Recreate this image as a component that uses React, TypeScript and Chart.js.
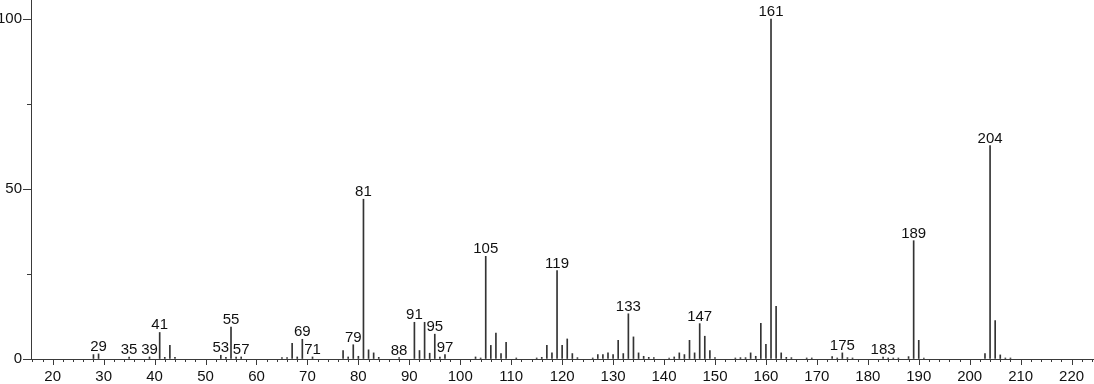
import React, { useEffect, useRef } from 'react';
import { Chart, registerables } from 'chart.js';

Chart.register(...registerables);

// m/z values and relative intensities (%)
const mzValues = [
  28, 29, 35, 39, 41, 42, 43, 44, 53, 54, 55, 56, 57, 65, 66, 67, 68, 69, 71,
  77, 78, 79, 80, 81, 82, 83, 84, 88, 91, 92, 93, 94, 95, 96, 97,
  103, 104, 105, 106, 107, 108, 109, 111, 115, 116, 117, 118, 119, 120, 121, 122, 123,
  126, 127, 128, 129, 130, 131, 132, 133, 134, 135, 136, 137, 138,
  141, 142, 143, 144, 145, 146, 147, 148, 149, 150, 154, 155, 156, 157, 158, 159, 160,
  161, 162, 163, 164, 165, 168, 169, 173, 174, 175, 176, 177, 183, 184, 185, 186,
  188, 189, 190, 191, 203, 204, 205, 206, 207, 208,
];
const intensities = [
  1.3, 1.5, 0.6, 0.6, 7.8, 0.5, 4.0, 0.5, 1.1, 0.5, 9.4, 0.6, 0.6, 0.4, 0.4, 4.6, 0.6, 5.8, 0.6,
  2.5, 0.6, 4.2, 0.8, 47.0, 2.7, 1.8, 0.5, 0.4, 10.8, 2.5, 10.8, 1.7, 7.3, 0.6, 1.3,
  0.6, 0.3, 30.2, 4.0, 7.6, 1.6, 4.9, 0.3, 0.3, 0.5, 4.0, 1.8, 26.0, 4.0, 5.9, 1.6, 0.4,
  0.3, 1.3, 1.3, 1.8, 1.3, 5.5, 1.6, 13.3, 6.5, 1.8, 0.8, 0.5, 0.4,
  0.3, 0.6, 1.8, 1.3, 5.5, 1.8, 10.4, 6.7, 2.5, 0.4, 0.3, 0.4, 0.4, 1.8, 0.8, 10.5, 4.3,
  100.0, 15.5, 1.8, 0.5, 0.4, 0.3, 0.3, 0.7, 0.3, 1.8, 0.4, 0.3, 0.6, 0.3, 0.3, 0.3,
  0.7, 34.8, 5.5, 0.3, 1.6, 62.8, 11.3, 1.2, 0.3, 0.3,
];
const labeledPeaks = [
  29, 35, 39, 41, 53, 55, 57, 69, 71, 79, 81, 88, 91, 95, 97,
  105, 119, 133, 147, 161, 175, 183, 189, 204,
];
const xTickLabels = [20, 30, 40, 50, 60, 70, 80, 90, 100, 110, 120, 130, 140, 150, 160, 170, 180, 190, 200, 210, 220];
const yTickLabels = [0, 50, 100];
const yTickMarks = [0, 25, 50, 75, 100];

const FONT = '"Liberation Sans", Arial, Helvetica, sans-serif';
const AXIS = '#3a3a3a';

export default function App() {
  const ref = useRef<HTMLCanvasElement>(null);

  useEffect(() => {
    const canvas = ref.current;
    if (!canvas) return;
    const points = mzValues.map((x, i) => ({ x, y: intensities[i] }));

    const spectrumPlugin = {
      id: 'spectrumDecor',
      afterDraw(chart: any) {
        const c = chart.ctx as CanvasRenderingContext2D;
        const xs = chart.scales.x;
        const ys = chart.scales.y;
        const area = chart.chartArea;
        c.save();
        c.strokeStyle = AXIS;
        c.lineWidth = 1;
        c.beginPath();
        for (let v = 16; v <= 224; v += 2) {
          const px = Math.round(xs.getPixelForValue(v)) + 0.5;
          const len = xTickLabels.includes(v) ? 6 : 3;
          c.moveTo(px, area.bottom);
          c.lineTo(px, area.bottom + len);
        }
        for (const v of yTickMarks) {
          const py = Math.round(ys.getPixelForValue(v)) + 0.5;
          const len = yTickLabels.includes(v) ? 8 : 4;
          c.moveTo(area.left, py);
          c.lineTo(area.left - len, py);
        }
        c.stroke();

        const meta = chart.getDatasetMeta(0);
        c.fillStyle = '#111';
        c.font = '15px ' + FONT;
        c.textAlign = 'center';
        c.textBaseline = 'alphabetic';
        meta.data.forEach((el: any, i: number) => {
          const mz = mzValues[i];
          if (labeledPeaks.includes(mz)) {
            c.fillText(String(mz), el.x, el.y - 3);
          }
        });
        c.restore();
      },
    };

    const chart = new Chart(canvas, {
      type: 'bar',
      data: {
        datasets: [
          {
            data: points as any,
            backgroundColor: '#333',
            borderWidth: 0,
            barThickness: 1,
          },
        ],
      },
      options: {
        animation: false,
        responsive: false,
        maintainAspectRatio: false,
        layout: { padding: 0 },
        plugins: {
          legend: { display: false },
          tooltip: { enabled: false },
        },
        scales: {
          x: {
            type: 'linear',
            min: 15.74,
            max: 224.4,
            offset: false,
            grid: { display: true, drawOnChartArea: false, drawTicks: false, offset: false },
            border: { display: true, color: AXIS, width: 1 },
            afterBuildTicks: (scale: any) => {
              const t = [];
              for (let v = 16; v <= 224; v += 2) t.push({ value: v });
              scale.ticks = t;
            },
            ticks: {
              autoSkip: false,
              maxRotation: 0,
              padding: 9,
              color: '#111',
              font: { family: FONT, size: 15 },
              callback: (v: any) => (xTickLabels.includes(Number(v)) ? String(v) : ''),
            },
            afterFit: (scale: any) => {
              scale.height = 25;
              scale.paddingLeft = 0;
              scale.paddingRight = 0;
            },
          },
          y: {
            type: 'linear',
            min: 0,
            max: 105.6,
            grid: { display: true, drawOnChartArea: false, drawTicks: false },
            border: { display: true, color: AXIS, width: 1 },
            afterBuildTicks: (scale: any) => {
              scale.ticks = yTickMarks.map((v) => ({ value: v }));
            },
            ticks: {
              autoSkip: false,
              padding: 9,
              color: '#111',
              font: { family: FONT, size: 15 },
              callback: (v: any) => (yTickLabels.includes(Number(v)) ? String(v) : ''),
            },
            afterFit: (scale: any) => {
              scale.width = 31;
              scale.paddingTop = 0;
              scale.paddingBottom = 0;
            },
          },
        },
      },
      plugins: [spectrumPlugin],
    });

    return () => {
      chart.destroy();
    };
  }, []);

  return (
    <div style={{ position: 'fixed', left: 0, top: 0, width: 1094, height: 384, background: '#fff' }}>
      <canvas ref={ref} width={1094} height={384} style={{ display: 'block', width: 1094, height: 384 }} />
    </div>
  );
}
